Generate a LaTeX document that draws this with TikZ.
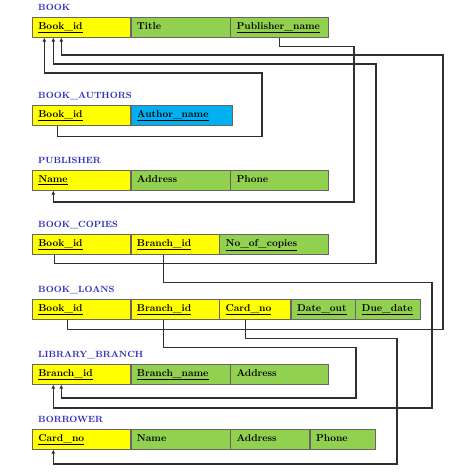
\documentclass[tikz,border=0pt]{standalone}
\usetikzlibrary{arrows.meta}
\definecolor{keyyellow}{HTML}{FFFF00}
\definecolor{attgreen}{HTML}{92D050}
\definecolor{attblue}{HTML}{00B0F0}
\definecolor{tabletitle}{HTML}{2B2BB8}
\definecolor{linegray}{HTML}{303030}

\begin{document}
\begin{tikzpicture}[
        x=1pt, y=-1pt,
        every node/.style={font=\bfseries\strut},
        cell/.style={draw=black!60, line width=0.6pt, anchor=north west,
            minimum height=20pt, inner xsep=6pt, inner ysep=0pt, align=left},
        keycell/.style={cell, fill=keyyellow},
        attcell/.style={cell, fill=attgreen},
        title/.style={anchor=west, inner xsep=6pt, text=tabletitle, font=\bfseries\small\strut},
        fk/.style={draw=linegray, line width=1.1pt, -{Latex[length=4pt,width=4pt]}}
    ]
	\useasboundingbox (0,0) rectangle (474,472);
	\foreach \n/\y/\t in {t-book/8/BOOK, t-authors/96/BOOK\_AUTHORS, t-pub/161/PUBLISHER,
	        t-copies/225/BOOK\_COPIES, t-loans/290/BOOK\_LOANS,
	        t-branch/355/LIBRARY\_BRANCH, t-borrow/420/BORROWER}
		{
		  \node[title] (\n) at (32,\y) {\t};
		};
	% BOOK
	\node[keycell, text width=86pt] (bk-id) at (32,17) {\underline{Book\_id}};
	\node[attcell, text width=87pt] (bk-title) at (bk-id.north east) {Title};
	\node[attcell, text width=86pt] (bk-pub) at (bk-title.north east) {\underline{Publisher\_name}};
	% BOOK_AUTHORS
	\node[keycell, text width=86pt] (ba-id) at (32,105) {\underline{Book\_id}};
	\node[cell, fill=attblue, text width=89pt] (ba-author) at (ba-id.north east) {\underline{Author\_name}};
	% PUBLISHER
	\node[keycell, text width=86pt] (pub-name) at (32,170) {\underline{Name}};
	\node[attcell, text width=87pt] (pub-addr) at (pub-name.north east) {Address};
	\node[attcell, text width=86pt] (pub-phone) at (pub-addr.north east) {Phone};
	% BOOK_COPIES
	\node[keycell, text width=86pt] (bc-id) at (32,234) {\underline{Book\_id}};
	\node[keycell, text width=76pt] (bc-branch) at (bc-id.north east) {\underline{Branch\_id}};
	\node[attcell, text width=97pt] (bc-copies) at (bc-branch.north east) {\underline{No\_of\_copies}};
	% BOOK_LOANS
	\node[keycell, text width=86pt] (bl-id) at (32,299) {\underline{Book\_id}};
	\node[keycell, text width=76pt] (bl-branch) at (bl-id.north east) {\underline{Branch\_id}};
	\node[keycell, text width=59pt] (bl-card) at (bl-branch.north east) {\underline{Card\_no}};
	\node[attcell, text width=52pt] (bl-out) at (bl-card.north east) {\underline{Date\_out}};
	\node[attcell, text width=53pt] (bl-due) at (bl-out.north east) {\underline{Due\_date}};
	% LIBRARY_BRANCH
	\node[keycell, text width=86pt] (lb-id) at (32,364) {\underline{Branch\_id}};
	\node[attcell, text width=87pt] (lb-name) at (lb-id.north east) {\underline{Branch\_name}};
	\node[attcell, text width=86pt] (lb-addr) at (lb-name.north east) {Address};
	% BORROWER
	\node[keycell, text width=86pt] (br-card) at (32,429) {\underline{Card\_no}};
	\node[attcell, text width=87pt] (br-name) at (br-card.north east) {Name};
	\node[attcell, text width=67pt] (br-addr) at (br-name.north east) {Address};
	\node[attcell, text width=53pt] (br-phone) at (br-addr.north east) {Phone};
	% foreign keys
	\draw[fk] (bk-pub.south) -- ++(0,9) -| (354,202) -| ([xshift=-28pt]pub-name.south);
	\draw[fk] ([xshift=-24pt]ba-id.south) -- ++(0,11) -| (262,73) -| ([xshift=-37pt]bk-id.south);
	\draw[fk] ([xshift=-27pt]bc-id.south) -- ++(0,9) -| (376,64) -| ([xshift=-28pt]bk-id.south);
	\draw[fk] ([xshift=-14pt]bl-id.south) -- ++(0,10) -| (443,55) -| ([xshift=-20pt]bk-id.south);
	\draw[fk] ([xshift=-11pt]bc-branch.south) -- ++(0,28) -| (432,408) -| ([xshift=-28pt]lb-id.south);
	\draw[fk] ([xshift=-11pt]bl-branch.south) -- ++(0,28) -| (356,398) -| ([xshift=-20pt]lb-id.south);
	\draw[fk] ([xshift=-9.5pt]bl-card.south) -- ++(0,19) -| (397,464) -| ([xshift=-28pt]br-card.south);
\end{tikzpicture}
\end{document}
